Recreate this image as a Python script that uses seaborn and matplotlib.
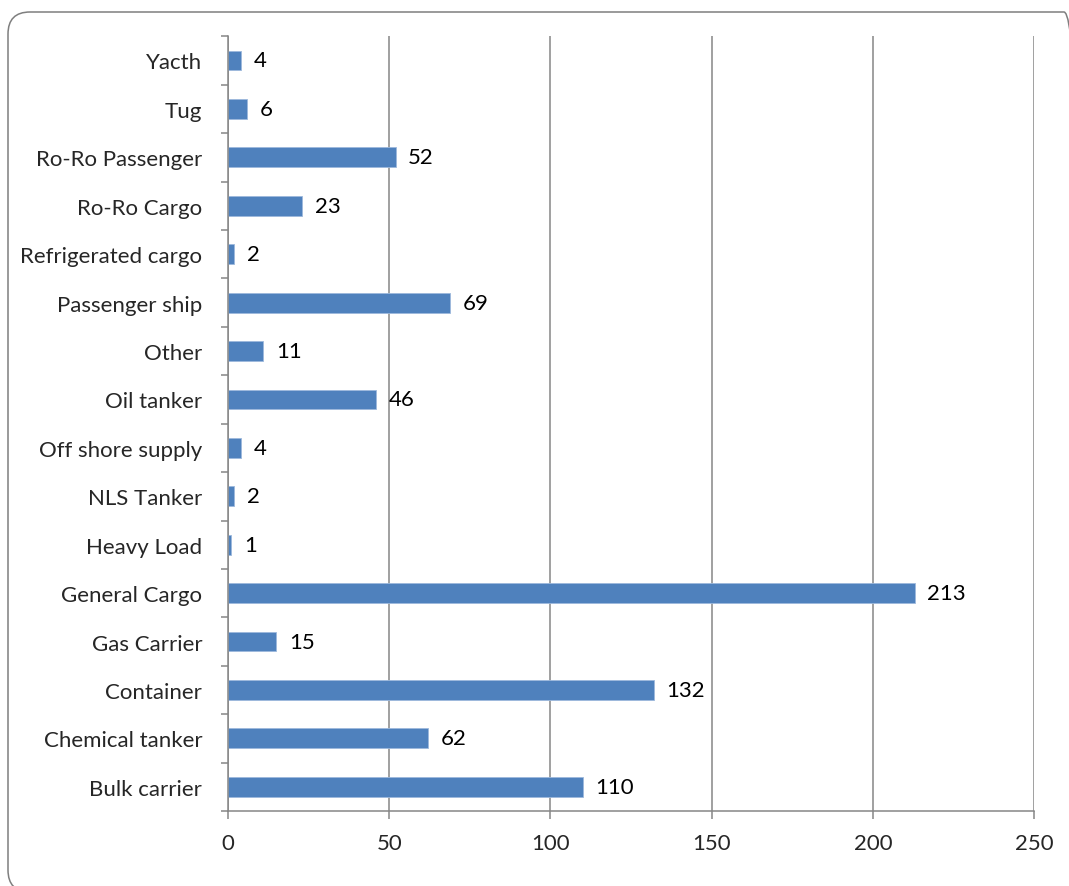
import numpy as np
import pandas as pd
import seaborn as sns
import matplotlib.pyplot as plt
from matplotlib.patches import FancyBboxPatch
from matplotlib.ticker import FixedLocator

# Ship types, listed top to bottom as in the chart
ship_types = ['Yacth', 'Tug', 'Ro-Ro Passenger', 'Ro-Ro Cargo', 'Refrigerated cargo',
              'Passenger ship', 'Other', 'Oil tanker', 'Off shore supply', 'NLS Tanker',
              'Heavy Load', 'General Cargo', 'Gas Carrier', 'Container',
              'Chemical tanker', 'Bulk carrier']
counts = [4, 6, 52, 23, 2, 69, 11, 46, 4, 2, 1, 213, 15, 132, 62, 110]
x_ticks = [0, 50, 100, 150, 200, 250]

df = pd.DataFrame({'type': ship_types, 'count': counts})

sns.set_style('white')
plt.rcParams['font.family'] = ['Lato', 'DejaVu Sans']

fig = plt.figure(figsize=(10.69, 8.87), dpi=100)
ax = fig.add_axes([0.2133, 0.0845, 0.754, 0.8735])

sns.barplot(data=df, x='count', y='type', order=ship_types, orient='h',
            color='#4F81BD', saturation=1, width=0.41,
            edgecolor='#9DB9DC', linewidth=0.6, ax=ax)

# value labels
ax.bar_label(ax.containers[0], labels=[str(v) for v in counts],
             padding=9, fontsize=16, color='black')

grey = '#868686'
ax.set_xlim(0, 250)
ax.set_ylim(len(ship_types) - 0.5, -0.5)
ax.set_xticks(x_ticks)
ax.set_xticklabels([str(t) for t in x_ticks], fontsize=16)
ax.xaxis.grid(True, color=grey, linewidth=1.1)
ax.set_axisbelow(True)
ax.set_xlabel('')
ax.set_ylabel('')

# category labels, tick marks at category boundaries
ax.tick_params(axis='y', which='major', length=0, pad=18.5, labelsize=16)
ax.yaxis.set_minor_locator(FixedLocator(np.arange(-0.5, len(ship_types), 1.0)))
ax.tick_params(axis='y', which='minor', length=5, width=1.1, color=grey, direction='out', left=True)
ax.tick_params(axis='x', which='major', length=6, width=1.1, color=grey, direction='out',
               bottom=True, pad=10)

for side in ['top', 'right']:
    ax.spines[side].set_visible(False)
for side in ['left', 'bottom']:
    ax.spines[side].set_color(grey)
    ax.spines[side].set_linewidth(1.1)

# rounded frame around the chart area (runs off the right and bottom edges)
frame = FancyBboxPatch((0.08, -0.06), 10.78, 8.80,
                       boxstyle='round,pad=0,rounding_size=0.22',
                       transform=fig.dpi_scale_trans, facecolor='none',
                       edgecolor='#7F7F7F', linewidth=1.1)
fig.patches.append(frame)

fig.savefig('out.png', dpi=100)
